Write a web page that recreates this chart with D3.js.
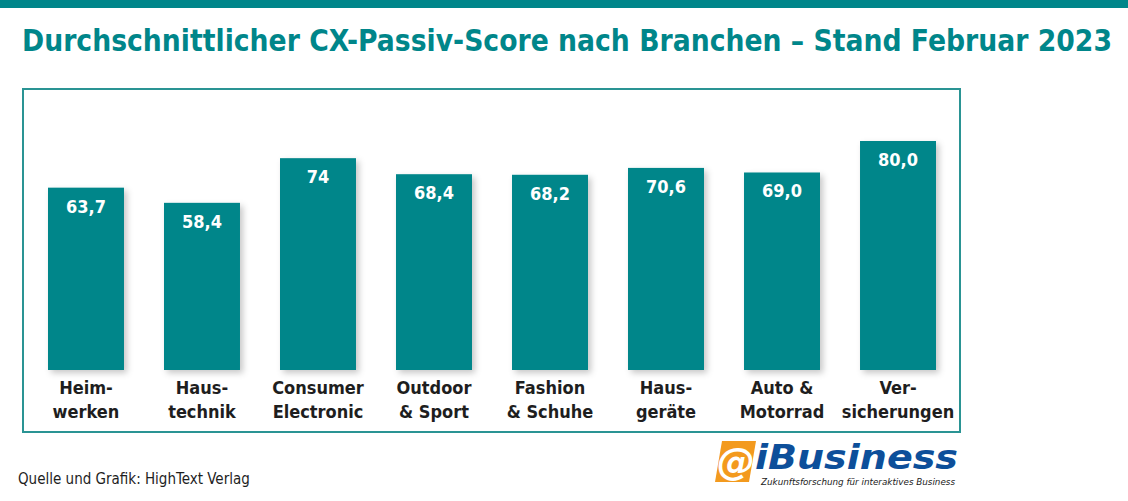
<!DOCTYPE html>
<html><head><meta charset="utf-8">
<script src="https://cdn.jsdelivr.net/npm/d3@7"></script>
<style>body{margin:0;background:#fff}svg{display:block}</style>
</head><body>
<svg id="c" width="1128" height="501"></svg>
<script>
const categories = [["Heim-","werken"],["Haus-","technik"],["Consumer","Electronic"],["Outdoor","& Sport"],["Fashion","& Schuhe"],["Haus-","geräte"],["Auto &","Motorrad"],["Ver-","sicherungen"]];
const values = [63.7, 58.4, 74, 68.4, 68.2, 70.6, 69.0, 80.0];
const valueLabels = ["63,7","58,4","74","68,4","68,2","70,6","69,0","80,0"];

const teal = "#00868a";
const svg = d3.select("#c");
const defs = svg.append("defs");
const f = defs.append("filter").attr("id","sh").attr("x","-20%").attr("y","-10%").attr("width","150%").attr("height","130%");
f.append("feDropShadow").attr("dx",3).attr("dy",3).attr("stdDeviation",3).attr("flood-color","#000").attr("flood-opacity",0.22);

svg.append("rect").attr("x",0).attr("y",0).attr("width",1128).attr("height",8).attr("fill",teal);

svg.append("text").attr("x",22).attr("y",51)
  .attr("font-family","DejaVu Sans Condensed, DejaVu Sans").attr("font-weight","bold")
  .attr("font-size",30).attr("fill",teal)
  .attr("textLength",1090).attr("lengthAdjust","spacingAndGlyphs")
  .text("Durchschnittlicher CX-Passiv-Score nach Branchen – Stand Februar 2023");

svg.append("rect").attr("x",23).attr("y",89).attr("width",937).attr("height",343)
  .attr("fill","none").attr("stroke","#2a9494").attr("stroke-width",2);

const x = d3.scaleBand().domain(d3.range(values.length)).range([28,956]).paddingInner(0.345).paddingOuter(0.1724);
const y = d3.scaleLinear().domain([0,80]).range([370,141]);

svg.append("g").selectAll("rect").data(values).join("rect")
  .attr("x",(d,i)=>x(i)).attr("y",d=>y(d)).attr("width",x.bandwidth()).attr("height",d=>y(0)-y(d))
  .attr("fill",teal).attr("filter","url(#sh)");

svg.append("g").selectAll("text").data(values).join("text")
  .attr("x",(d,i)=>x(i)+x.bandwidth()/2).attr("y",d=>y(d)+25)
  .attr("text-anchor","middle").attr("font-family","DejaVu Sans Condensed, DejaVu Sans").attr("font-weight","bold")
  .attr("font-size",18).attr("fill","#fff").text((d,i)=>valueLabels[i]);

const lab = svg.append("g").selectAll("text").data(categories).join("text")
  .attr("text-anchor","middle").attr("font-family","DejaVu Sans Condensed, DejaVu Sans").attr("font-weight","bold")
  .attr("font-size",18).attr("fill","#1e1e1e");
lab.each(function(d,i){
  const t = d3.select(this);
  d.forEach((line,j)=>t.append("tspan").attr("x",x(i)+x.bandwidth()/2).attr("y",394+j*24).text(line));
});

svg.append("text").attr("x",18).attr("y",484).attr("font-family","DejaVu Sans Condensed").attr("font-size",15).attr("fill","#1e1e1e")
  .text("Quelle und Grafik: HighText Verlag");

// logo
const lg = svg.append("g");
lg.append("path").attr("d","M722,441 L756,441 L749,482 L715,482 Z").attr("fill","#f39a1e");
lg.append("text").attr("x",736).attr("y",475).attr("text-anchor","middle").attr("font-family","DejaVu Sans").attr("font-weight","bold").attr("font-style","italic").attr("font-size",38).attr("fill","#fff").text("@");
lg.append("text").attr("x",755).attr("y",469).attr("font-family","DejaVu Sans").attr("font-weight","bold").attr("font-style","italic").attr("font-size",33).attr("fill","#0d4f9a")
  .attr("textLength",203).attr("lengthAdjust","spacingAndGlyphs").text("iBusiness");
lg.append("text").attr("x",761).attr("y",485).attr("font-family","DejaVu Sans Condensed").attr("font-style","italic").attr("font-size",8.5).attr("fill","#222")
  .attr("textLength",194).attr("lengthAdjust","spacingAndGlyphs").text("Zukunftsforschung für interaktives Business");
</script>
</body></html>
